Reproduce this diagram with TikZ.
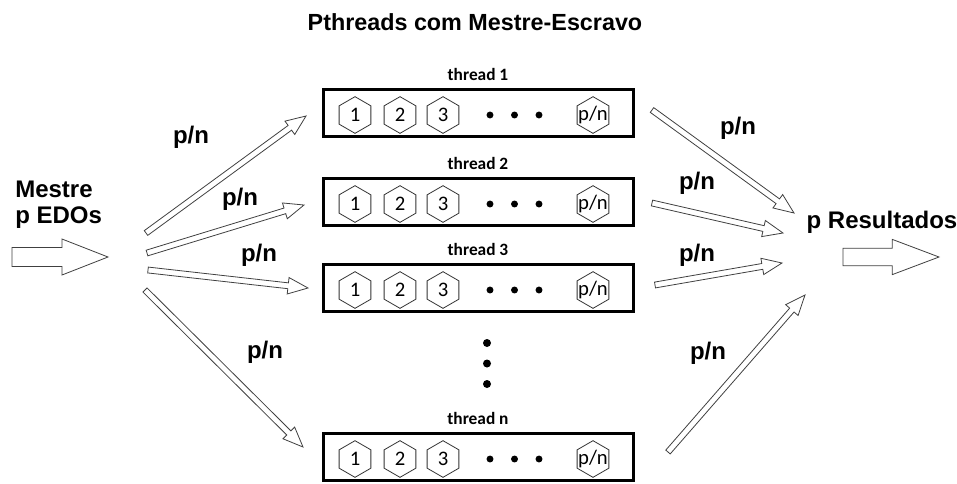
\documentclass[tikz,border=0pt]{standalone}
\usepackage{fontspec}
\setmainfont{Liberation Sans}
\newfontfamily\calfont{Carlito}
\usetikzlibrary{calc,shapes.geometric}

% outlined (hollow) arrow: from, to, shaft half width, head half width, head length
\newcommand\hollowarrow[5]{%
  \coordinate (hneck) at ($(#2)!#5!(#1)$);
  \draw[arrowline]
    ($(#1)!#3!90:(#2)$) -- ($(hneck)!#3!90:(#2)$) -- ($(hneck)!#4!90:(#2)$)
    -- (#2)
    -- ($(hneck)!#4!-90:(#2)$) -- ($(hneck)!#3!-90:(#2)$) -- ($(#1)!#3!-90:(#2)$)
    -- cycle;}

\tikzset{
  arrowline/.style={draw=black!75, line width=0.6pt, line join=miter, fill=white},
  threadbox/.style={draw=black, line width=2.25pt, minimum width=232.5pt,
    minimum height=35.25pt, inner sep=0pt},
  threadlabel/.style={font=\calfont\bfseries\fontsize{13}{15}\selectfont},
  hexa/.style={regular polygon, regular polygon sides=6, shape border rotate=30,
    draw=black!80, line width=0.6pt, minimum size=27.5pt, inner sep=0pt},
  hexlabel/.style={font=\calfont\fontsize{15.5}{17}\selectfont, inner sep=0pt},
  bigtext/.style={font=\bfseries\fontsize{18}{19.5}\selectfont, inner sep=0pt},
  dot/.style={circle, fill=black, inner sep=0pt, minimum size=#1},
}

\begin{document}
\begin{tikzpicture}[x=0.75pt, y=-0.75pt]
\useasboundingbox (0,0) rectangle (957,483);

% title
\node[font=\bfseries\fontsize{17.5}{20}\selectfont] (title) at (475,22) {Pthreads com Mestre-Escravo};

% master input
\node[bigtext, align=left, anchor=west] (mestre) at (15,205) {Mestre\\p EDOs};
\coordinate (ins) at (12,257);
\coordinate (ine) at (108,257);
\hollowarrow{ins}{ine}{7.1pt}{13.5pt}{34.5pt}

% results output
\node[bigtext] (result) at (882,222) {p Resultados};
\coordinate (outs) at (843,257);
\coordinate (oute) at (939,257);
\hollowarrow{outs}{oute}{6.5pt}{13.2pt}{35pt}

% thread boxes with their tasks
\foreach \nm/\yy/\lab in {t1/113/1, t2/202/2, t3/288/3, tn/457/n} {
  \node[threadbox] (\nm) at (478.5,\yy) {};
  \node[threadlabel] (\nm lab) at (478,\yy-39) {thread \lab};
  \foreach \hx/\tsk in {355/1, 400/2, 443/3} {
    \node[hexa] (\nm h\tsk) at (\hx,\yy+2) {};
    \node[hexlabel] (\nm x\tsk) at (\nm h\tsk) {\tsk};
  }
  \node[hexa] (\nm hp) at (593,\yy+2) {};
  \node[hexlabel] (\nm xp) at (\nm hp) {p/n};
  \foreach \dx [count=\k] in {490,514.5,539}
    \node[dot=5.2pt] (\nm d\k) at (\dx,\yy+2) {};
}

% vertical ellipsis between thread 3 and thread n
\foreach \dy [count=\k] in {343,363.5,384}
  \node[dot=6pt] (vd\k) at (487,\dy) {};

% distribution from the master to the threads
\coordinate (l1s) at (146,233); \coordinate (l1e) at (306,116);
\coordinate (l2s) at (147,253); \coordinate (l2e) at (304,205);
\coordinate (l3s) at (148,270); \coordinate (l3e) at (308,288);
\coordinate (l4s) at (145,290); \coordinate (l4e) at (303,447);
% collection from the threads into the results
\coordinate (r1s) at (652,110); \coordinate (r1e) at (794,213);
\coordinate (r2s) at (652,203); \coordinate (r2e) at (783,233);
\coordinate (r3s) at (655,285); \coordinate (r3e) at (782,263);
\coordinate (r4s) at (668,452); \coordinate (r4e) at (805,295);

\foreach \a in {l1,l2,l3,l4,r1,r2,r3,r4} {
  \hollowarrow{\a s}{\a e}{2.2pt}{6.2pt}{15pt}
}

% share labels
\foreach \px/\py [count=\k] in {191/137, 240/199, 259/255, 265/352,
                                738/128, 697/183, 697/255, 708/353}
  \node[bigtext] (pn\k) at (\px,\py) {p/n};

\end{tikzpicture}
\end{document}
